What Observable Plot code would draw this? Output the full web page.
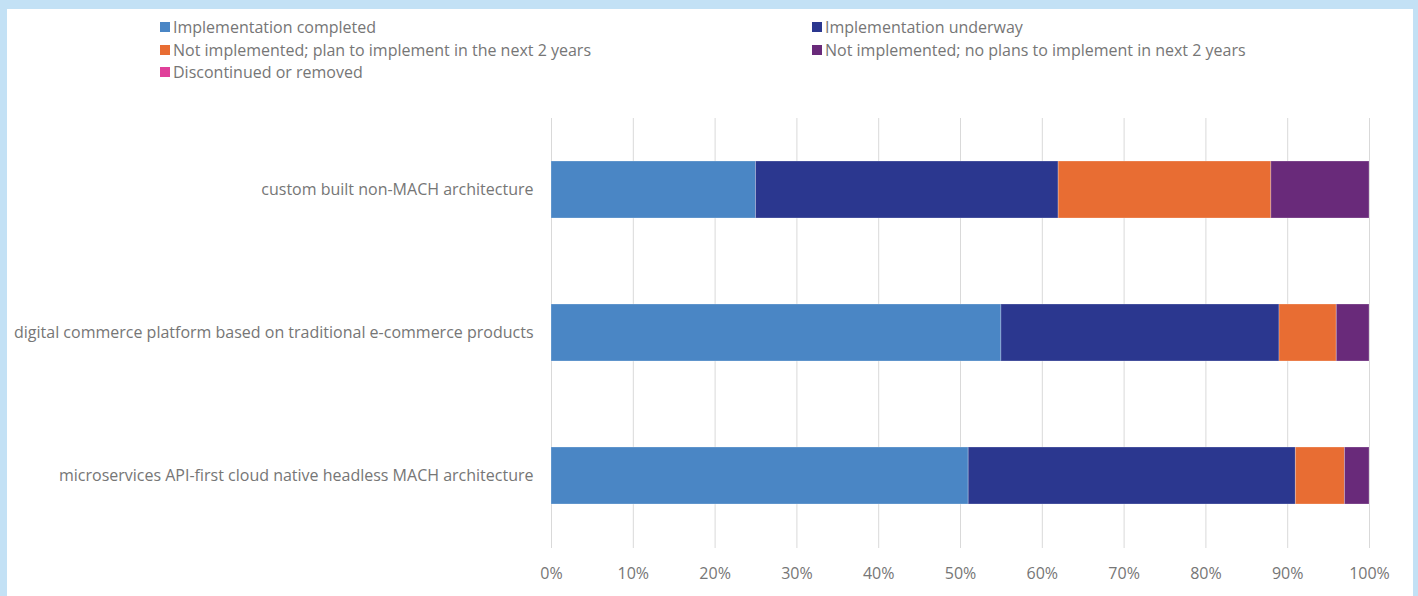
<!DOCTYPE html>
<html>
<head>
<meta charset="utf-8">
<script src="https://cdn.jsdelivr.net/npm/d3@7"></script>
<script src="https://cdn.jsdelivr.net/npm/@observablehq/plot@0.6"></script>
<style>
  html, body { margin: 0; padding: 0; background: #c3e1f5; width: 1418px; height: 596px; overflow: hidden; }
  #card { position: absolute; left: 7px; top: 9px; width: 1406px; height: 600px; background: #ffffff; }
  #legend { position: absolute; left: 0; top: 7px; width: 1406px; height: 80px; font-family: "Open Sans", sans-serif; font-size: 16px; color: #767676; }
  .item { position: absolute; display: flex; align-items: center; white-space: nowrap; line-height: 22px; }
  .sw { width: 10px; height: 10px; margin-right: 3px; }
  #chart { position: absolute; left: 0; top: 86px; }
  #chart svg { font-family: "Open Sans", sans-serif; }
</style>
</head>
<body>
<div id="card">
  <div id="legend"></div>
  <div id="chart"></div>
</div>
<script>
const categories = [
  "custom built non-MACH architecture",
  "digital commerce platform based on traditional e-commerce products",
  "microservices API-first cloud native headless MACH architecture"
];
const series = [
  "Implementation completed",
  "Implementation underway",
  "Not implemented; plan to implement in the next 2 years",
  "Not implemented; no plans to implement in next 2 years",
  "Discontinued or removed"
];
const colors = ["#4a86c5", "#2b378f", "#e86d33", "#692a7a", "#e0409a"];
const completed = [25, 55, 51];
const underway = [37, 34, 40];
const planned = [26, 7, 6];
const noPlans = [12, 4, 3];
const discontinued = [0, 0, 0];
const xTicks = [0, 10, 20, 30, 40, 50, 60, 70, 80, 90, 100];

const seriesValues = [completed, underway, planned, noPlans, discontinued];
const rows = [];
categories.forEach((c, i) => {
  series.forEach((s, j) => rows.push({category: c, series: s, value: seriesValues[j][i]}));
});

// legend (two columns, as in the reference)
const legend = document.getElementById("legend");
const pos = [[153, 0], [805, 0], [153, 1], [805, 1], [153, 2]];
series.forEach((s, j) => {
  const d = document.createElement("div");
  d.className = "item";
  d.style.left = pos[j][0] + "px";
  d.style.top = (pos[j][1] * 22.5) + "px";
  d.innerHTML = `<span class="sw" style="background:${colors[j]}"></span><span>${s}</span>`;
  legend.appendChild(d);
});

const chart = Plot.plot({
  width: 1406,
  height: 501,
  marginLeft: 544,
  marginRight: 44,
  marginTop: 23,
  marginBottom: 48,
  style: {fontSize: "16px", color: "#767676", background: "transparent"},
  x: {domain: [0, 100], ticks: xTicks, tickFormat: d => d + "%", tickSize: 0, tickPadding: 19, label: null},
  y: {domain: categories, paddingInner: 0.6, paddingOuter: 0.3, tickSize: 0, tickPadding: 18, label: null},
  color: {domain: series, range: colors},
  marks: [
    Plot.ruleX(xTicks, {stroke: "#d9d9d9", strokeWidth: 1}),
    Plot.barX(rows, Plot.stackX({x: "value", y: "category", fill: "series", order: series, stroke: "#ffffff", strokeOpacity: 0.25, strokeWidth: 1}))
  ]
});
document.getElementById("chart").appendChild(chart);
</script>
</body>
</html>
